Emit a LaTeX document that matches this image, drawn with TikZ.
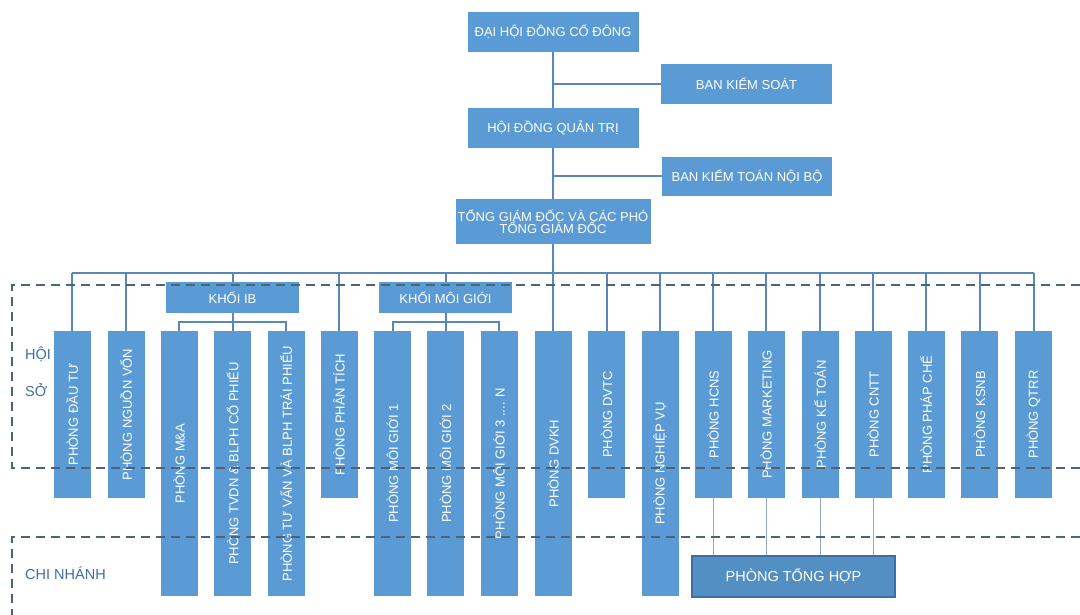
\documentclass[tikz,border=0pt]{standalone}
\usepackage{fontspec}
\usepackage{graphicx}
\setmainfont{Liberation Sans}
\definecolor{boxblue}{HTML}{5B9BD5}
\definecolor{linkblue}{HTML}{5A87BA}
\definecolor{thinlink}{HTML}{8FA9C4}
\definecolor{dashcol}{HTML}{4D6478}
\definecolor{labcol}{HTML}{3F6F9F}
\definecolor{thborder}{HTML}{3A6EA5}
\begin{document}
\begin{tikzpicture}[x=1pt,y=-1pt,
  box/.style={fill=boxblue, text=white, inner sep=0pt, align=center,
    font=\fontsize{13}{12}\selectfont},
  topbox/.style={box, minimum width=171, minimum height=40},
  shortcol/.style={box, minimum width=37, minimum height=167},
  longcol/.style={box, minimum width=37, minimum height=265},
  khoi/.style={box, minimum width=133, minimum height=31},
  link/.style={draw=linkblue, line width=2pt},
  thin/.style={draw=thinlink, line width=1pt},
  region/.style={draw=dashcol, line width=1.8pt, dash pattern=on 9pt off 6pt},
  lab/.style={text=labcol, anchor=west, inner sep=0pt, font=\fontsize{14.5}{16}\selectfont}]
\useasboundingbox (0,0) rectangle (1080,615);

% top hierarchy
\node[topbox] (dhcd) at (553,32) {ĐẠI HỘI ĐỒNG CỔ ĐÔNG};
\node[topbox] (bks) at (746.5,84) {BAN KIỂM SOÁT};
\node[topbox] (hdqt) at (553,128) {HỘI ĐỒNG QUẢN TRỊ};
\node[topbox, minimum width=170, minimum height=39] (bktnb) at (747,176.5) {BAN KIỂM TOÁN NỘI BỘ};
\node[box, minimum width=195, minimum height=45] (tgd) at (553,221.5) {TỔNG GIÁM ĐỐC VÀ CÁC PHÓ\\TỔNG GIÁM ĐỐC};

% khoi boxes
\node[khoi] (ib) at (232.5,297.5) {KHỐI IB};
\node[khoi] (kmg) at (445.5,297.5) {KHỐI MÔI GIỚI};

% columns
\node[shortcol] (dautu) at (72,414.5) {\rotatebox{90}{PHÒNG ĐẦU TƯ}};
\node[shortcol] (nguonvon) at (126,414.5) {\rotatebox{90}{PHÒNG NGUỒN VỐN}};
\node[longcol] (ma) at (179,463.5) {\rotatebox{90}{PHÒNG M\&A}};
\node[longcol] (tvdn) at (232.5,463.5) {\rotatebox{90}{PHÒNG TVDN \& BLPH CỔ PHIẾU}};
\node[longcol] (tuvan) at (286,463.5) {\rotatebox{90}{PHÒNG TƯ VẤN VÀ BLPH TRÁI PHIẾU}};
\node[shortcol] (phantich) at (339,414.5) {\rotatebox{90}{PHÒNG PHÂN TÍCH}};
\node[longcol] (mg1) at (392.5,463.5) {\rotatebox{90}{PHÒNG MÔI GIỚI 1}};
\node[longcol] (mg2) at (445.5,463.5) {\rotatebox{90}{PHÒNG MÔI GIỚI 2}};
\node[longcol] (mg3) at (499,463.5) {\rotatebox{90}{PHÒNG MÔI GIỚI 3 .... N}};
\node[longcol] (dvkh) at (553,463.5) {\rotatebox{90}{PHÒNG DVKH}};
\node[shortcol] (dvtc) at (606.5,414.5) {\rotatebox{90}{PHÒNG DVTC}};
\node[longcol] (nghiepvu) at (660,463.5) {\rotatebox{90}{PHÒNG NGHIỆP VỤ}};
\node[shortcol] (hcns) at (713,414.5) {\rotatebox{90}{PHÒNG HCNS}};
\node[shortcol] (mkt) at (766,414.5) {\rotatebox{90}{PHÒNG MARKETING}};
\node[shortcol] (ketoan) at (820,414.5) {\rotatebox{90}{PHÒNG KẾ TOÁN}};
\node[shortcol] (cntt) at (873,414.5) {\rotatebox{90}{PHÒNG CNTT}};
\node[shortcol] (phapche) at (926,414.5) {\rotatebox{90}{PHÒNG PHÁP CHẾ}};
\node[shortcol] (ksnb) at (979.5,414.5) {\rotatebox{90}{PHÒNG KSNB}};
\node[shortcol] (qtrr) at (1033.5,414.5) {\rotatebox{90}{PHÒNG QTRR}};

\node[box, fill=boxblue!92!black, draw=thborder, line width=1.2pt, minimum width=203, minimum height=41,
  font=\fontsize{14.5}{16}\selectfont] (th) at (793.5,576.5) {PHÒNG TỔNG HỢP};

% helper coordinates
\coordinate (bus) at (0,273);
\coordinate (brk) at (0,322);

% top connectors
\draw[link] (dhcd.south) -- (hdqt.north);
\draw[link] (hdqt.south) -- (tgd.north);
\draw[link] (bks.west) -- (bks.west -| dhcd.south);
\draw[link] (bktnb.west) -- (bktnb.west -| hdqt.south);
\draw[link] (tgd.south) -- (tgd.south |- bus);

% bus
\draw[link] (dautu.north |- bus) -- (qtrr.north |- bus);
\foreach \c in {dautu,nguonvon,ib,phantich,kmg,dvkh,dvtc,nghiepvu,hcns,mkt,ketoan,cntt,phapche,ksnb,qtrr}
  \draw[link] (\c.north |- bus) -- (\c.north);

% khoi brackets
\draw[link] (ib.south) -- (tvdn.north);
\draw[link] (ma.north) -- (ma.north |- brk) -- (tuvan.north |- brk) -- (tuvan.north);
\draw[link] (kmg.south) -- (mg2.north);
\draw[link] (mg1.north) -- (mg1.north |- brk) -- (mg3.north |- brk) -- (mg3.north);

% tong hop links
\foreach \c in {hcns,mkt,ketoan,cntt}
  \draw[thin] (\c.south) -- (\c.south |- th.north);

% regions
\coordinate (r1) at (12,285);
\coordinate (r2) at (12,468);
\coordinate (r3) at (12,537);
\coordinate (r4) at (12,615);
\coordinate (re1) at (1080,285);
\coordinate (re2) at (1080,468);
\coordinate (re3) at (1080,537);
\draw[region] (re1) -- (r1) -- (r2) -- (re2);
\draw[region] (re3) -- (r3) -- (r4);

\node[lab] (hoi) at (25,354) {HỘI};
\node[lab] (so) at (25,390) {SỞ};
\node[lab] (cn) at (25,573) {CHI NHÁNH};
\end{tikzpicture}
\end{document}
